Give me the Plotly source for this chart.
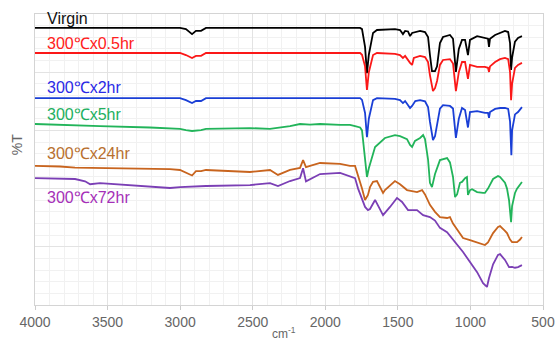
import plotly.graph_objects as go

# ---- data (wavenumber cm-1, %T) ----
virgin_wn = [4000, 3001, 2960, 2918, 2891, 2856, 2822, 1760, 1747, 1726, 1713, 1700, 1671, 1644, 1520, 1485, 1465, 1450, 1430, 1416, 1402, 1347, 1313, 1292, 1279, 1265, 1244, 1230, 1210, 1189, 1141, 1120, 1100, 1080, 1058, 1037, 1017, 1003, 954, 900, 879, 872, 865, 830, 796, 762, 740, 727, 720, 713, 693, 672, 645]
virgin_t = [95.2, 95.2, 94.8, 93.1, 94.2, 94.2, 95.2, 95.2, 94.8, 88.7, 79.7, 86.0, 93.5, 94.5, 94.8, 94.5, 93.1, 94.2, 94.0, 92.4, 93.5, 94.2, 93.8, 92.1, 86.0, 80.4, 80.4, 82.0, 90.0, 92.1, 92.8, 91.5, 80.1, 88.0, 91.1, 91.1, 85.9, 91.1, 92.4, 91.8, 91.5, 88.7, 91.5, 92.8, 93.5, 94.2, 93.8, 90.0, 80.8, 85.0, 90.5, 91.8, 92.4]

h05_wn = [4000, 3001, 2960, 2918, 2891, 2856, 2822, 1760, 1747, 1726, 1713, 1700, 1671, 1644, 1520, 1485, 1465, 1450, 1416, 1402, 1390, 1347, 1313, 1292, 1279, 1258, 1244, 1230, 1210, 1189, 1141, 1120, 1100, 1080, 1058, 1037, 1017, 1003, 954, 900, 879, 872, 865, 830, 796, 762, 740, 727, 720, 713, 693, 672, 645]
h05_t = [86.6, 86.6, 85.9, 84.9, 85.6, 85.6, 86.6, 86.6, 86.0, 82.0, 73.9, 80.0, 85.9, 86.6, 86.3, 85.9, 84.9, 85.6, 83.2, 82.5, 84.9, 85.6, 85.2, 83.5, 79.0, 73.5, 74.5, 77.0, 82.5, 84.2, 84.5, 83.0, 73.5, 80.0, 83.5, 83.5, 77.7, 82.5, 81.8, 81.8, 81.5, 80.1, 82.0, 83.5, 84.5, 84.9, 84.5, 80.0, 70.4, 76.0, 81.5, 82.5, 83.2]

h2_wn = [4000, 3001, 2960, 2918, 2891, 2856, 2822, 1760, 1747, 1726, 1713, 1700, 1671, 1644, 1520, 1485, 1465, 1450, 1416, 1402, 1380, 1347, 1313, 1292, 1279, 1258, 1244, 1230, 1210, 1189, 1141, 1120, 1100, 1080, 1058, 1037, 1017, 1003, 954, 900, 879, 872, 865, 830, 796, 762, 740, 727, 718, 713, 693, 672, 645]
h2_t = [71.1, 71.1, 70.4, 69.4, 70.1, 70.1, 71.1, 71.1, 70.5, 66.0, 57.7, 64.0, 70.4, 71.1, 70.8, 70.4, 69.4, 70.1, 67.7, 68.4, 70.1, 70.4, 70.0, 68.0, 63.0, 56.7, 58.0, 62.0, 67.5, 68.7, 68.4, 67.5, 57.4, 64.0, 67.7, 67.0, 61.0, 66.3, 66.6, 66.0, 66.0, 64.3, 66.3, 67.4, 67.7, 67.7, 67.4, 63.0, 51.5, 60.0, 65.5, 66.3, 68.0]

h5_wn = [4000, 3828, 3724, 3552, 3208, 3070, 3001, 2960, 2918, 2856, 2822, 2519, 2381, 2243, 2174, 2105, 2036, 1898, 1830, 1795, 1760, 1747, 1726, 1713, 1700, 1671, 1657, 1589, 1520, 1485, 1437, 1416, 1402, 1382, 1347, 1326, 1313, 1292, 1279, 1265, 1244, 1210, 1161, 1141, 1120, 1106, 1092, 1072, 1058, 1037, 1024, 1017, 1003, 989, 954, 913, 900, 879, 844, 810, 796, 762, 748, 734, 727, 720, 713, 693, 679, 658, 645]
h5_t = [62.2, 62.0, 61.9, 61.5, 61.0, 60.8, 60.5, 60.1, 59.8, 60.1, 60.5, 60.8, 60.5, 61.5, 62.2, 62.0, 62.2, 61.9, 61.9, 61.5, 61.0, 60.0, 50.0, 44.0, 47.0, 52.0, 54.3, 57.4, 58.4, 58.0, 57.0, 55.0, 54.3, 56.4, 57.4, 58.4, 57.0, 50.0, 42.0, 40.5, 45.0, 49.8, 50.5, 49.0, 44.0, 37.1, 38.0, 42.0, 42.3, 43.6, 44.0, 37.8, 39.5, 39.8, 38.8, 38.5, 38.5, 40.0, 43.3, 44.3, 44.0, 42.0, 40.0, 36.0, 33.0, 28.5, 34.0, 38.5, 40.0, 41.2, 42.3]

h24_wn = [4000, 3828, 3724, 3552, 3208, 3070, 3001, 2960, 2918, 2891, 2856, 2822, 2519, 2381, 2326, 2243, 2174, 2153, 2133, 2105, 2036, 1898, 1830, 1795, 1774, 1747, 1726, 1706, 1692, 1671, 1644, 1609, 1602, 1589, 1520, 1485, 1437, 1368, 1333, 1313, 1279, 1244, 1210, 1161, 1141, 1120, 1092, 1051, 1003, 934, 900, 879, 844, 810, 796, 762, 748, 727, 713, 679, 658, 645]
h24_t = [47.8, 47.6, 47.2, 47.1, 47.0, 46.7, 46.4, 45.5, 44.5, 46.0, 46.0, 46.4, 45.7, 46.4, 44.7, 46.4, 47.1, 49.8, 47.4, 47.8, 48.8, 48.5, 47.8, 47.8, 44.7, 40.0, 36.1, 37.8, 40.5, 42.3, 42.6, 38.8, 38.5, 39.5, 42.6, 41.5, 39.5, 38.8, 39.5, 38.0, 34.4, 32.0, 30.2, 29.9, 30.2, 28.0, 25.8, 23.0, 22.3, 21.3, 20.6, 21.5, 24.7, 26.8, 27.1, 25.5, 24.7, 22.5, 21.6, 21.6, 22.5, 23.4]

h72_wn = [4000, 3724, 3655, 3620, 3552, 3345, 3208, 3070, 3001, 2822, 2519, 2381, 2326, 2243, 2174, 2153, 2133, 2105, 2036, 1898, 1830, 1795, 1774, 1726, 1706, 1692, 1657, 1609, 1602, 1554, 1506, 1471, 1430, 1368, 1326, 1279, 1244, 1210, 1161, 1051, 954, 913, 886, 872, 844, 810, 796, 762, 734, 713, 693, 672, 645]
h72_t = [43.6, 43.3, 42.5, 41.5, 41.9, 41.2, 40.5, 40.2, 40.5, 40.9, 41.2, 41.9, 40.9, 42.6, 43.6, 47.0, 42.5, 43.3, 45.0, 45.4, 44.3, 43.6, 40.0, 33.7, 32.6, 33.0, 36.1, 31.5, 30.9, 33.7, 36.8, 35.4, 32.6, 32.6, 30.9, 30.2, 29.0, 26.5, 25.0, 18.2, 11.3, 7.5, 6.2, 9.3, 14.0, 17.2, 17.5, 15.5, 13.0, 13.1, 12.8, 13.0, 13.7]

series_names = ["Virgin", "300℃x0.5hr", "300℃x2hr", "300℃x5hr", "300℃x24hr", "300℃x72hr"]
series_x = [virgin_wn, h05_wn, h2_wn, h5_wn, h24_wn, h72_wn]
series_y = [virgin_t, h05_t, h2_t, h5_t, h24_t, h72_t]
line_colors = ["#000000", "#fb1818", "#1a3fd6", "#22b45a", "#c8641e", "#7b3fb5"]
label_colors = ["#111111", "#ff2020", "#2a2ae6", "#22b060", "#b8702f", "#a530b8"]
label_y = [98.3, 90.0, 74.9, 65.6, 51.9, 36.8]
label_x = 3931

x_ticks = [4000, 3500, 3000, 2500, 2000, 1500, 1000, 500]

FONT = "Liberation Sans, Arial, sans-serif"

fig = go.Figure()
for name, xs, ys, c in zip(series_names, series_x, series_y, line_colors):
    fig.add_trace(go.Scatter(x=xs, y=ys, mode="lines", name=name,
                             line=dict(color=c, width=1.8), showlegend=False))

for name, c, ly in zip(series_names, label_colors, label_y):
    fig.add_annotation(x=label_x, y=ly, xref="x", yref="y", text=name,
                       showarrow=False, xanchor="left", yanchor="middle",
                       font=dict(size=16, color=c, family=FONT))

fig.add_annotation(x=-0.035, y=0.55, xref="paper", yref="paper", text="%T",
                   textangle=-90, showarrow=False, xanchor="center", yanchor="middle",
                   font=dict(size=14, color="#666666", family=FONT))

fig.add_annotation(x=0.49, y=-0.062, xref="paper", yref="paper", text="cm<sup>-1</sup>",
                   showarrow=False, xanchor="center", yanchor="top",
                   font=dict(size=12, color="#666666", family=FONT))

fig.update_layout(
    width=557, height=342,
    margin=dict(l=35, r=14, t=14, b=37),
    paper_bgcolor="white", plot_bgcolor="white",
    font=dict(family=FONT, color="#666666"),
    xaxis=dict(range=[4000, 500], tickvals=x_ticks, ticktext=[str(v) for v in x_ticks],
               automargin=False,
               showgrid=True, gridcolor="#e3e3e3", gridwidth=1,
               minor=dict(dtick=100, showgrid=True, gridcolor="#f1f1f1", gridwidth=1),
               showline=True, linecolor="#d4d4d4", mirror=True,
               ticks="outside", ticklen=4, tickcolor="#cccccc",
               tickfont=dict(size=14, color="#666666"),
               zeroline=False),
    yaxis=dict(range=[0, 100], dtick=20, showticklabels=False, automargin=False,
               showgrid=True, gridcolor="#e3e3e3", gridwidth=1,
               minor=dict(dtick=4, showgrid=True, gridcolor="#f1f1f1", gridwidth=1),
               showline=True, linecolor="#d4d4d4", mirror=True,
               ticks="", zeroline=False),
)

fig.write_html("out.html")
